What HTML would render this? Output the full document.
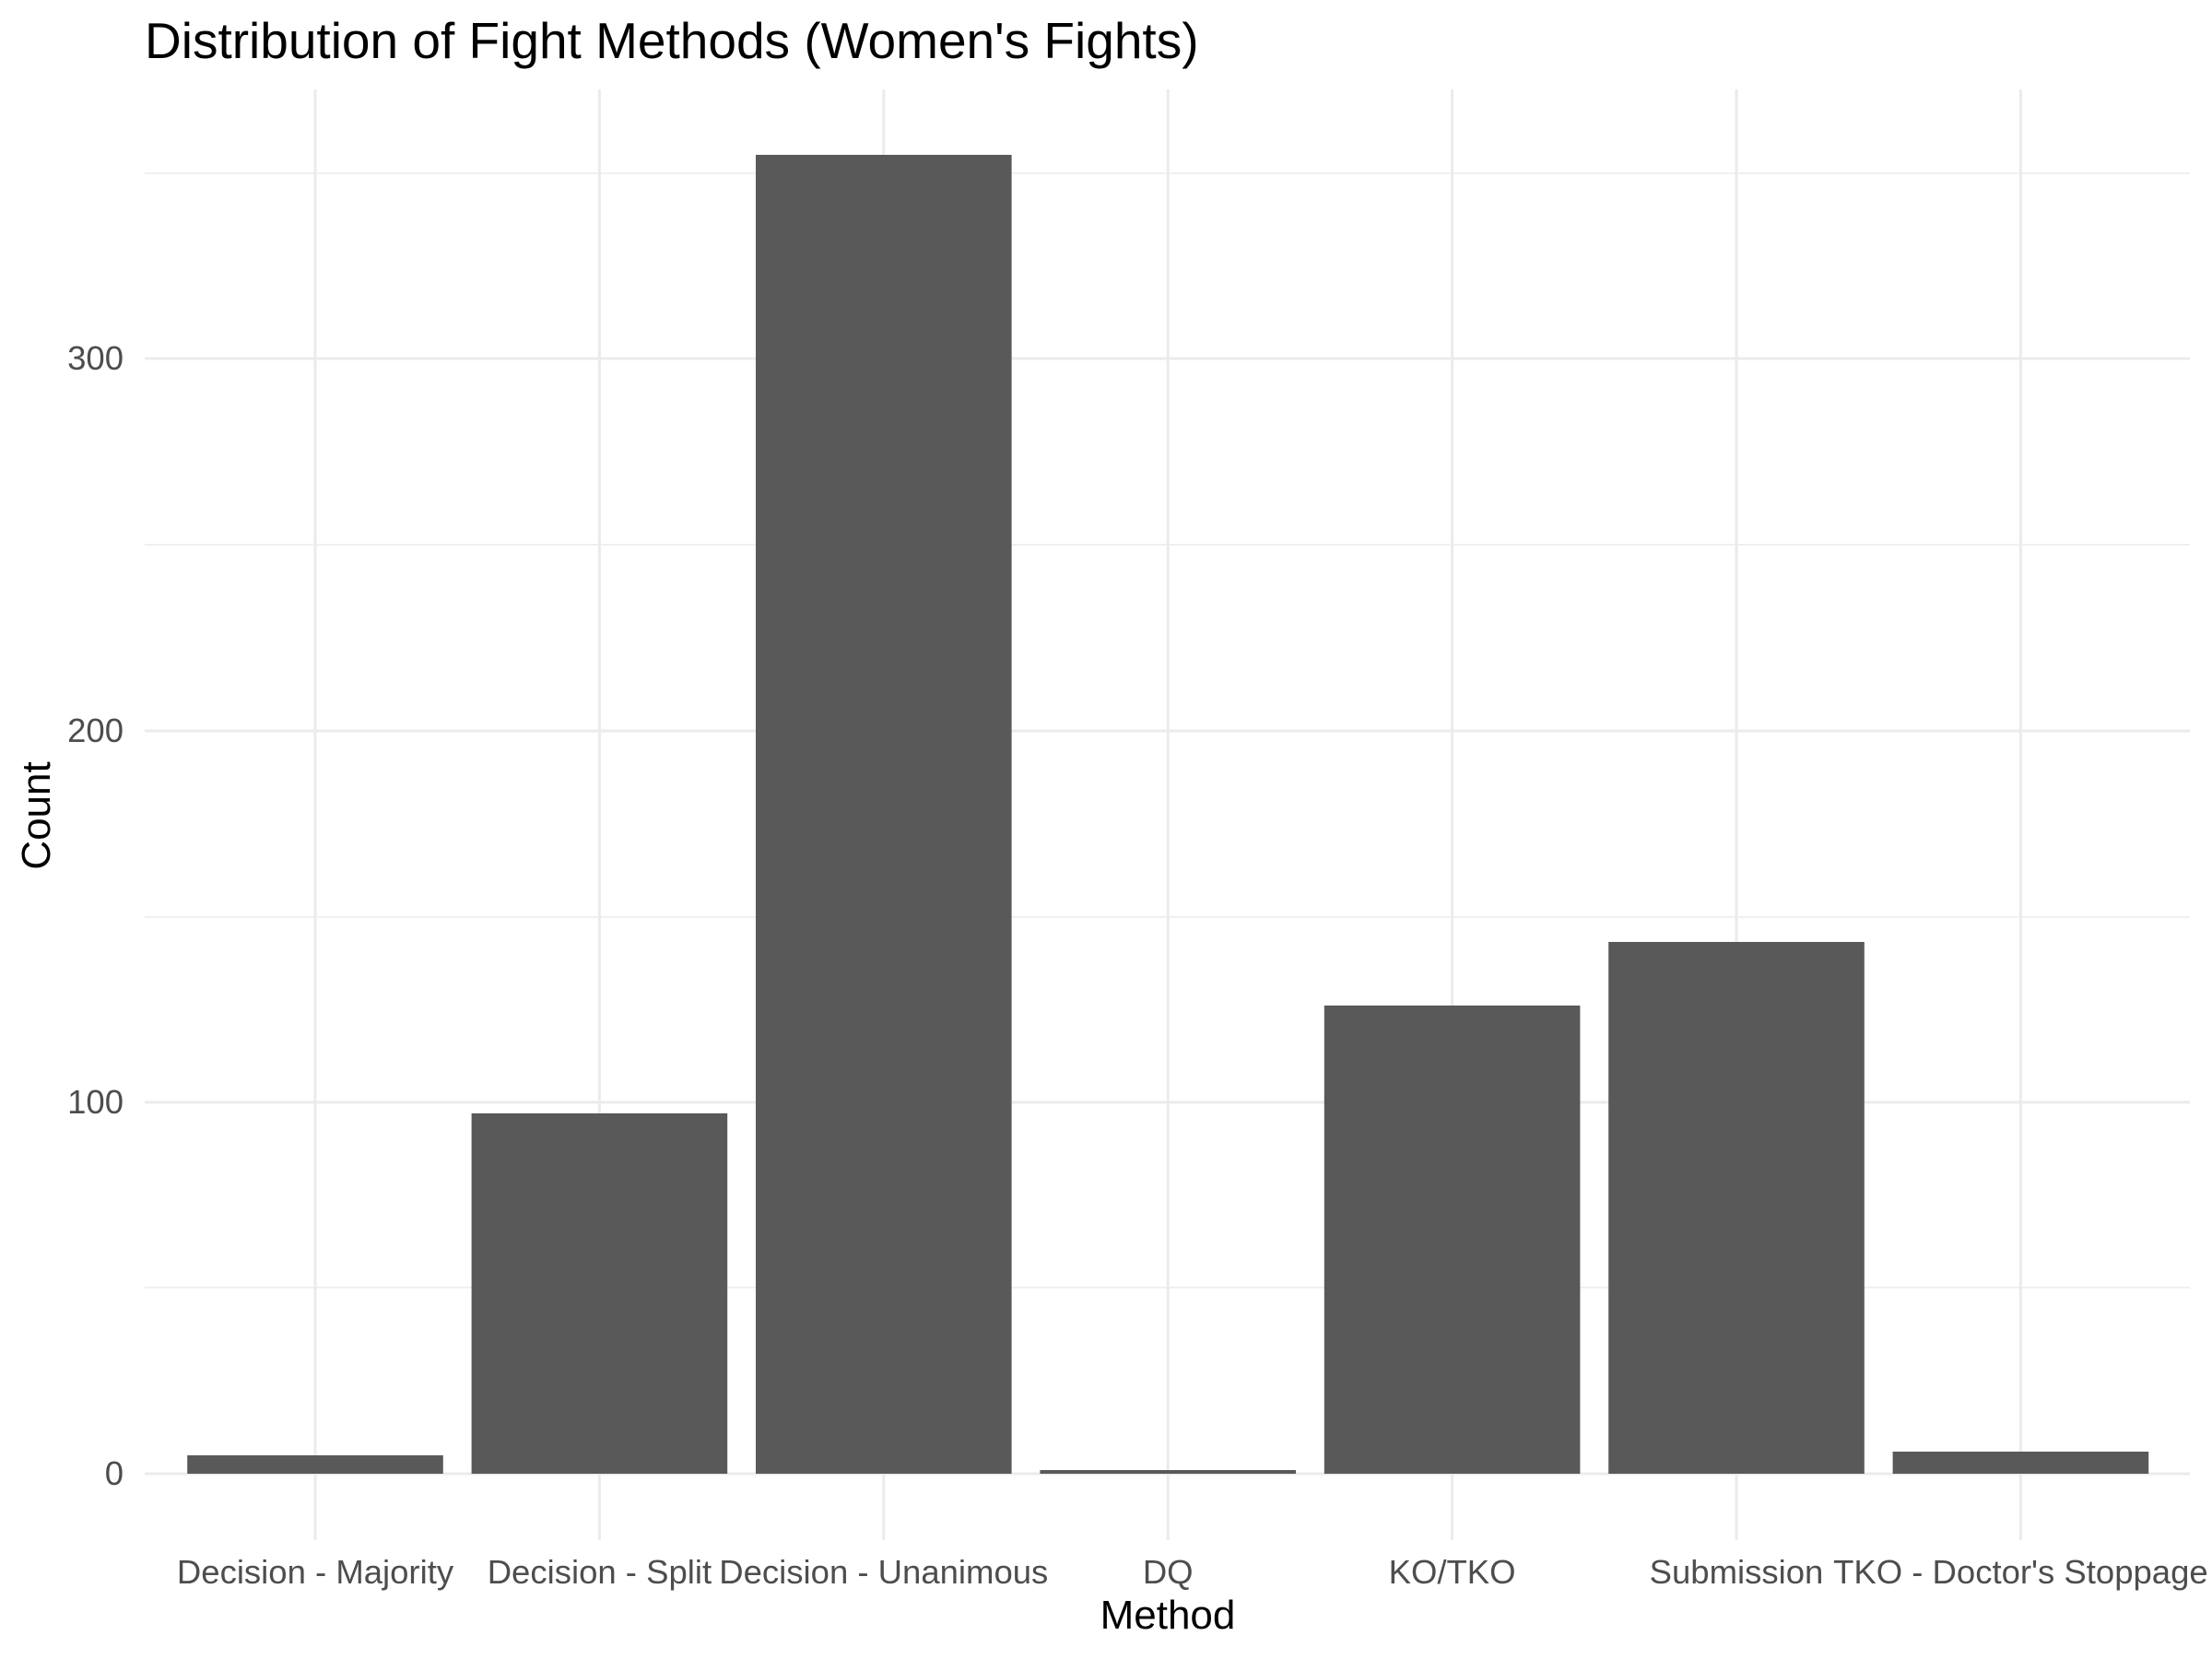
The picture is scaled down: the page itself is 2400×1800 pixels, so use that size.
<!DOCTYPE html>
<html><head><meta charset="utf-8"><style>html,body{margin:0;padding:0;background:#fff}svg{display:block}</style></head>
<body>
<svg width="2400" height="1800" viewBox="0 0 2400 1800" xmlns="http://www.w3.org/2000/svg" font-family="Liberation Sans, Arial, sans-serif">
<rect width="2400" height="1800" fill="#fff"/>
<g stroke="#ebebeb">
<g stroke-width="1.5">
<line x1="157" x2="2376" y1="1397" y2="1397"/>
<line x1="157" x2="2376" y1="995" y2="995"/>
<line x1="157" x2="2376" y1="591" y2="591"/>
<line x1="157" x2="2376" y1="188" y2="188"/>
</g>
<g stroke-width="3">
<line x1="157" x2="2376" y1="1599" y2="1599"/>
<line x1="157" x2="2376" y1="1196" y2="1196"/>
<line x1="157" x2="2376" y1="793" y2="793"/>
<line x1="157" x2="2376" y1="389" y2="389"/>
<line x1="342" x2="342" y1="97" y2="1671"/>
<line x1="650.4" x2="650.4" y1="97" y2="1671"/>
<line x1="958.8" x2="958.8" y1="97" y2="1671"/>
<line x1="1267.2" x2="1267.2" y1="97" y2="1671"/>
<line x1="1575.6" x2="1575.6" y1="97" y2="1671"/>
<line x1="1884" x2="1884" y1="97" y2="1671"/>
<line x1="2192.4" x2="2192.4" y1="97" y2="1671"/>
</g>
</g>
<g fill="#595959">
<rect x="203.2" y="1579" width="277.6" height="20"/>
<rect x="511.6" y="1208" width="277.6" height="391"/>
<rect x="820" y="168" width="277.6" height="1431"/>
<rect x="1128.4" y="1595" width="277.6" height="4"/>
<rect x="1436.8" y="1091" width="277.6" height="508"/>
<rect x="1745.2" y="1022" width="277.6" height="577"/>
<rect x="2053.6" y="1575" width="277.6" height="24"/>
</g>
<g fill="#4d4d4d" font-size="36.5">
<g text-anchor="end">
<text x="134" y="1611">0</text>
<text x="134" y="1208">100</text>
<text x="134" y="805">200</text>
<text x="134" y="401">300</text>
</g>
<g text-anchor="middle">
<text x="342" y="1718">Decision - Majority</text>
<text x="650.4" y="1718">Decision - Split</text>
<text x="958.8" y="1718">Decision - Unanimous</text>
<text x="1267.2" y="1718">DQ</text>
<text x="1575.6" y="1718">KO/TKO</text>
<text x="1884" y="1718">Submission</text>
<text x="2192.4" y="1718">TKO - Doctor's Stoppage</text>
</g>
</g>
<text x="1267" y="1767" font-size="44" text-anchor="middle" fill="#000">Method</text>
<text transform="translate(54,885) rotate(-90)" font-size="44" text-anchor="middle" fill="#000">Count</text>
<text x="157" y="63" font-size="55" fill="#000">Distribution of Fight Methods (Women's Fights)</text>
</svg>
</body></html>
